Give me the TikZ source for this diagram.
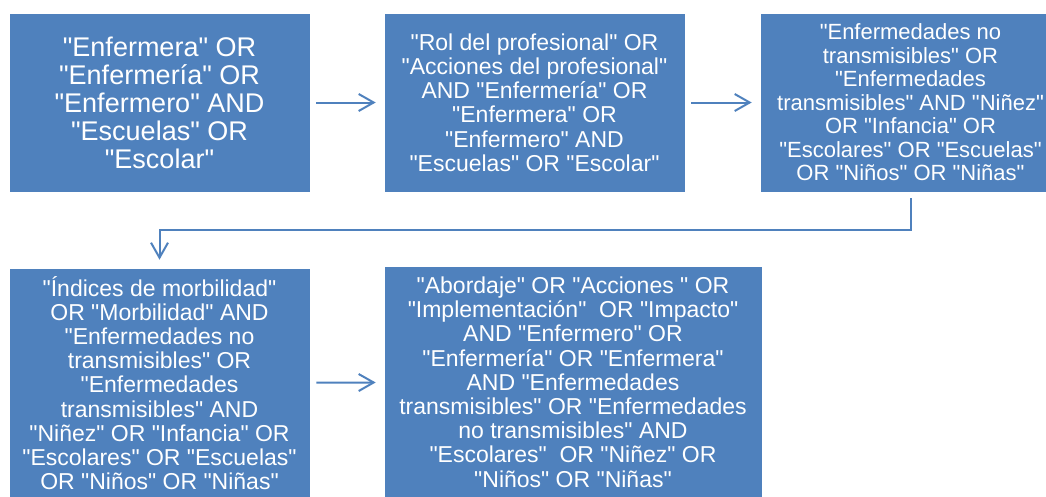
\documentclass[tikz,border=0pt]{standalone}
\usepackage{fontspec}
\setmainfont{Liberation Sans}[Ligatures=TeXOff]
\usetikzlibrary{arrows.meta}
\definecolor{boxblue}{HTML}{4F81BD}

\begin{document}
\begin{tikzpicture}[x=1pt, y=-1pt,
	box/.style={shape=rectangle, draw=white, line width=0.6pt, fill=boxblue, text=white, align=center, inner sep=0pt},
	txt/.style={font=\fontsize{23}{24.2}\selectfont},
	arr/.style={draw=boxblue, line width=2pt, -{Straight Barb[length=15pt,width=17pt]}, shorten <=6pt, shorten >=8pt}]
	\useasboundingbox (0,0) rectangle (1046,496);
	\clip (0,0) rectangle (1046,496);

	\node (z1)[box, minimum width=301pt, minimum height=179pt, font=\fontsize{27}{28}\selectfont]
	at (159.5,102.5){
		"Enfermera" OR \\
		"Enfermería" OR \\
		"Enfermero" AND \\
		"Escuelas" OR \\
		"Escolar"
	};

	\node (z2)[box, txt, minimum width=301pt, minimum height=179pt]
	at (534.5,102.5){
		"Rol del profesional" OR \\
		"Acciones del profesional" \\
		AND "Enfermería" OR \\
		"Enfermera" OR \\
		"Enfermero" AND \\
		"Escuelas" OR "Escolar"
	};

	\node (z3)[box, minimum width=301pt, minimum height=179pt, font=\fontsize{22}{23.5}\selectfont]
	at (910.5,102.5){
		"Enfermedades no \\
		transmisibles" OR \\
		"Enfermedades \\
		transmisibles" AND "Niñez" \\
		OR "Infancia" OR \\
		"Escolares" OR "Escuelas" \\
		OR "Niños" OR "Niñas"
	};

	\node (z4)[box, txt, minimum width=301pt, minimum height=230pt]
	at (159.5,383){
		"Índices de morbilidad" \\
		OR "Morbilidad" AND \\
		"Enfermedades no \\
		transmisibles" OR \\
		"Enfermedades \\
		transmisibles" AND \\
		"Niñez" OR "Infancia" OR \\
		"Escolares" OR "Escuelas" \\
		OR "Niños" OR "Niñas"
	};

	\node (z5)[box, txt, minimum width=378pt, minimum height=232pt]
	at (573,382){
		"Abordaje" OR "Acciones~" OR \\
		"Implementación"~ OR "Impacto" \\
		AND "Enfermero" OR \\
		"Enfermería" OR "Enfermera" \\
		AND "Enfermedades \\
		transmisibles" OR "Enfermedades \\
		no transmisibles" AND \\
		"Escolares"~ OR "Niñez" OR \\
		"Niños" OR "Niñas"
	};

	\coordinate (c1) at (910.5,230);

	\draw[arr] (z1) -- (z2);
	\draw[arr] (z2) -- (z3);
	\draw[arr] (z3) -- (c1) -| (z4);
	\draw[arr] (z4) -- (z5);
\end{tikzpicture}
\end{document}
